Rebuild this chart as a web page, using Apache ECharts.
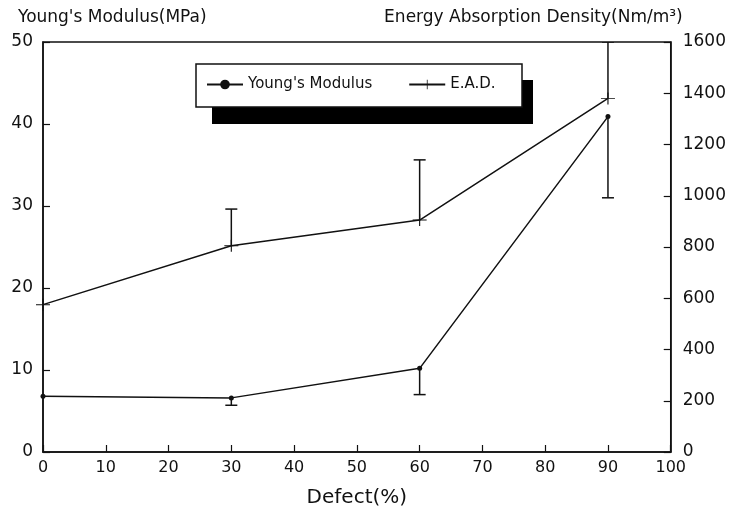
<!DOCTYPE html>
<html>
<head>
<meta charset="utf-8">
<script src="https://cdn.jsdelivr.net/npm/echarts@6/dist/echarts.min.js"></script>
<style>html,body{margin:0;padding:0;background:#fff}#c{width:729px;height:517px}</style>
</head>
<body>
<div id="c"></div>
<script>
var defect = [0, 30, 60, 90];
var youngs = [6.8, 6.6, 10.2, 40.9];
var youngsLow = [null, 5.7, 7.0, 31.0];
var ead = [575, 805, 905, 1380];
var eadHigh = [null, 948, 1140, 1600];
var xTicks = [0, 10, 20, 30, 40, 50, 60, 70, 80, 90, 100];

var FONT = 'DejaVu Sans';
var C = '#111';

function pairs(xs, ys) { return xs.map(function (x, i) { return [x, ys[i]]; }); }
function errData(xs, base, end) {
  var out = [];
  xs.forEach(function (x, i) { if (end[i] != null) out.push([x, base[i], end[i]]); });
  return out;
}
function errRender(params, api) {
  var p0 = api.coord([api.value(0), api.value(1)]);
  var p1 = api.coord([api.value(0), api.value(2)]);
  var w = 6;
  var st = { stroke: C, lineWidth: 1.5 };
  return {
    type: 'group',
    children: [
      { type: 'line', shape: { x1: p0[0], y1: p0[1], x2: p1[0], y2: p1[1] }, style: st },
      { type: 'line', shape: { x1: p1[0] - w, y1: p1[1], x2: p1[0] + w, y2: p1[1] }, style: st }
    ]
  };
}
var crossPath = 'path://M4.6,0 H5.4 V4.6 H10 V5.4 H5.4 V10 H4.6 V5.4 H0 V4.6 H4.6 Z';

var chart = echarts.init(document.getElementById('c'), null, { renderer: 'canvas' });
chart.setOption({
  animation: false,
  backgroundColor: '#fff',
  textStyle: { fontFamily: FONT, color: C },
  grid: { left: 43, right: 55, top: 42, bottom: 65, show: true, borderColor: C, borderWidth: 1.5, backgroundColor: 'transparent' },
  graphic: [
    { type: 'rect', shape: { x: 212, y: 80, width: 321, height: 44 }, style: { fill: '#000' }, z: 10 },
    { type: 'rect', shape: { x: 196, y: 64, width: 326, height: 43 }, style: { fill: '#fff', stroke: C, lineWidth: 1.5 }, z: 11 }
  ],
  legend: {
    left: 206, top: 77,
    padding: 0,
    itemGap: 36,
    itemWidth: 36, itemHeight: 12,
    z: 20,
    textStyle: { fontFamily: FONT, fontSize: 15, color: C },
    data: ["Young's Modulus", 'E.A.D.']
  },
  xAxis: {
    type: 'value', min: 0, max: 100, interval: 10,
    name: 'Defect(%)', nameLocation: 'middle', nameGap: 36,
    nameTextStyle: { fontFamily: FONT, fontSize: 20, color: C },
    axisLine: { show: true, lineStyle: { color: C, width: 1.5 } },
    axisTick: { show: true, inside: true, length: 7, lineStyle: { color: C, width: 1.2 } },
    axisLabel: { fontFamily: FONT, fontSize: 16, color: C, margin: 8,
      formatter: function (v) { return xTicks.indexOf(v) >= 0 ? String(v) : ''; } },
    splitLine: { show: false }
  },
  yAxis: [
    {
      type: 'value', min: 0, max: 50, interval: 10, position: 'left',
      name: "Young's Modulus(MPa)", nameLocation: 'end', nameGap: 16,
      nameTextStyle: { fontFamily: FONT, fontSize: 17, color: C, align: 'left', padding: [0, 0, 0, -25] },
      axisLine: { show: true, lineStyle: { color: C, width: 1.5 } },
      axisTick: { show: true, inside: true, length: 7, lineStyle: { color: C, width: 1.2 } },
      axisLabel: { fontFamily: FONT, fontSize: 17, color: C, margin: 10,
        formatter: function (v) { return String(v); } },
      splitLine: { show: false }
    },
    {
      type: 'value', min: 0, max: 1600, interval: 200, position: 'right',
      name: 'Energy Absorption Density(Nm/m³)', nameLocation: 'end', nameGap: 16,
      nameTextStyle: { fontFamily: FONT, fontSize: 17, color: C, align: 'right', padding: [0, -12, 0, 0] },
      axisLine: { show: true, lineStyle: { color: C, width: 1.5 } },
      axisTick: { show: true, inside: true, length: 7, lineStyle: { color: C, width: 1.2 } },
      axisLabel: { fontFamily: FONT, fontSize: 17, color: C, margin: 12,
        formatter: function (v) { return String(v); } },
      splitLine: { show: false }
    }
  ],
  series: [
    {
      name: "Young's Modulus", type: 'line', yAxisIndex: 0,
      data: pairs(defect, youngs),
      symbol: 'circle', symbolSize: 5,
      itemStyle: { color: C },
      lineStyle: { color: C, width: 1.5 },
      z: 3
    },
    {
      name: 'E.A.D.', type: 'line', yAxisIndex: 1,
      data: pairs(defect, ead),
      symbol: crossPath, symbolSize: [14, 12],
      itemStyle: { color: C },
      lineStyle: { color: C, width: 1.5 },
      z: 3
    },
    {
      name: 'YoungsErr', type: 'custom', yAxisIndex: 0,
      data: errData(defect, youngs, youngsLow),
      renderItem: errRender, encode: { x: 0, y: [1, 2] }, z: 2, silent: true
    },
    {
      name: 'EADErr', type: 'custom', yAxisIndex: 1,
      data: errData(defect, ead, eadHigh),
      renderItem: errRender, encode: { x: 0, y: [1, 2] }, z: 2, silent: true, clip: true
    }
  ]
});
</script>
</body>
</html>
